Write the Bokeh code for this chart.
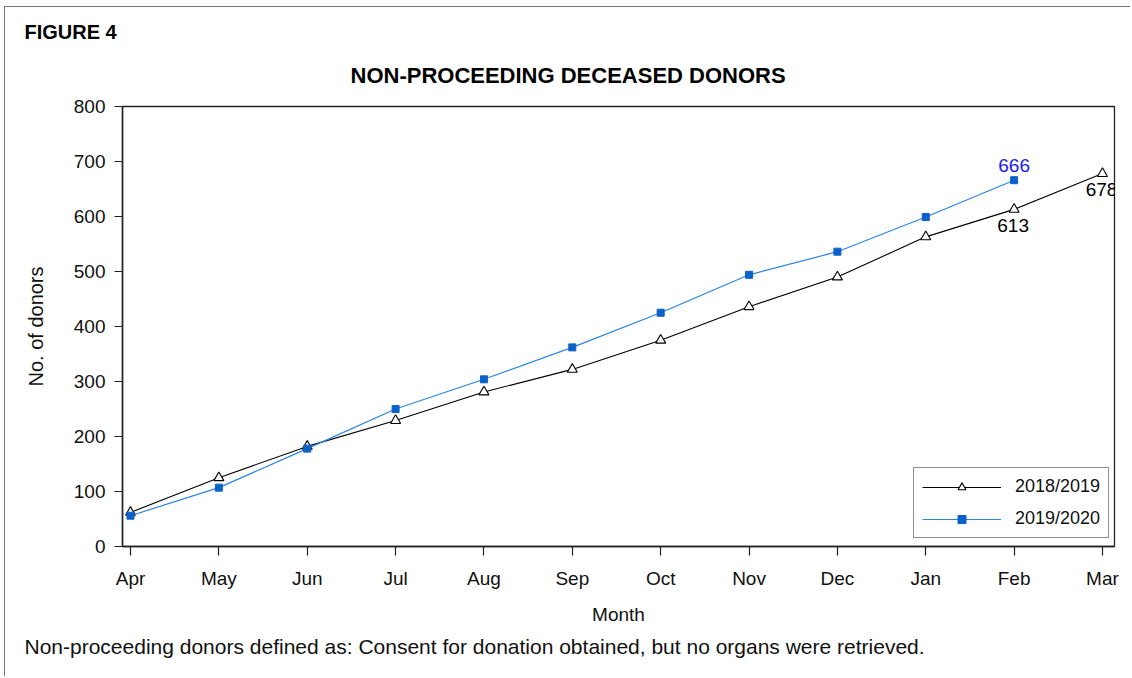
from bokeh.plotting import figure
from bokeh.models import ColumnDataSource, Legend, LegendItem, FixedTicker, Range1d, Title
from bokeh.embed import file_html
from bokeh.resources import INLINE
from bokeh.core.properties import value

months = ["Apr", "May", "Jun", "Jul", "Aug", "Sep", "Oct", "Nov", "Dec", "Jan", "Feb", "Mar"]
series_2018 = [62, 125, 182, 229, 281, 322, 375, 436, 490, 563, 613, 678]
series_2019 = [56, 107, 178, 250, 304, 362, 425, 494, 536, 599, 666]
y_ticks = [0, 100, 200, 300, 400, 500, 600, 700, 800]

FONT = "Liberation Sans"

x18 = list(range(len(series_2018)))
x19 = list(range(len(series_2019)))

p = figure(width=1126, height=670, output_backend="svg", toolbar_location=None,
           x_range=Range1d(-0.0905, 11.136), y_range=Range1d(0, 800),
           min_border_left=117, min_border_right=17, min_border_top=99, min_border_bottom=131)
p.background_fill_color = "white"
p.border_fill_color = "white"
p.outline_line_color = "#222222"
p.outline_line_width = 1.3
p.xgrid.visible = False
p.ygrid.visible = False
p.styles = {"margin-top": "6px", "margin-left": "4px",
            "border-top": "1px solid #777777", "border-left": "1px solid #777777"}

src18 = ColumnDataSource(dict(x=x18, y=series_2018))
src19 = ColumnDataSource(dict(x=x19, y=series_2019))

l18 = p.line("x", "y", source=src18, line_color="black", line_width=1.1)
m18 = p.scatter("x", "y", source=src18, marker="triangle", size=10, fill_color="white",
                line_color="black", line_width=1.1)
l19 = p.line("x", "y", source=src19, line_color="#2a86e2", line_width=1.2)
m19 = p.scatter("x", "y", source=src19, marker="square", size=7, fill_color="#0a62c8",
                line_color="#0a62c8")

# end-point labels
lab19 = ColumnDataSource(dict(x=[x19[-1]], y=[series_2019[-1]], t=[str(series_2019[-1])]))
lab18 = ColumnDataSource(dict(x=[x18[-2], x18[-1]], y=[series_2018[-2], series_2018[-1]],
                              t=[str(series_2018[-2]), str(series_2018[-1])]))
p.text("x", "y", text="t", source=lab19, text_color="#1a1aff", text_font=value(FONT),
       text_font_size="19px", text_align="center", text_baseline="middle", y_offset=-15)
p.text("x", "y", text="t", source=lab18, text_color="black", text_font=value(FONT),
       text_font_size="19px", text_align="center", text_baseline="middle", y_offset=16, x_offset=-1)

# axes
p.xaxis.ticker = FixedTicker(ticks=x18)
p.xaxis.major_label_overrides = {i: m for i, m in enumerate(months)}
p.yaxis.ticker = FixedTicker(ticks=y_ticks)
for ax in (p.xaxis[0], p.yaxis[0]):
    ax.axis_line_color = "#222222"
    ax.axis_line_width = 1.5
    ax.major_tick_line_color = "#222222"
    ax.major_tick_line_width = 1.2
    ax.major_tick_in = 0
    ax.minor_tick_line_color = None
    ax.major_label_text_font = FONT
    ax.major_label_text_font_size = "19px"
    ax.major_label_text_color = "#111111"
    ax.axis_label_text_font = FONT
    ax.axis_label_text_font_size = "19px"
    ax.axis_label_text_font_style = "normal"
    ax.axis_label_text_color = "#111111"
p.xaxis.major_tick_out = 9
p.xaxis.major_label_standoff = 12
p.xaxis.axis_label = "Month"
p.xaxis.axis_label_standoff = 12
p.yaxis.major_tick_out = 8
p.yaxis.major_label_standoff = 9
p.yaxis.axis_label = "No. of donors"
p.yaxis.axis_label_text_font_size = "20px"
p.yaxis.axis_label_standoff = 24

# legend
legend = Legend(items=[LegendItem(label="2018/2019", renderers=[l18, m18]),
                       LegendItem(label="2019/2020", renderers=[l19, m19])],
                location=(791, 8), orientation="vertical",
                border_line_color="#222222", border_line_width=1,
                background_fill_color="white", background_fill_alpha=1,
                padding=8, spacing=11, glyph_width=79, glyph_height=20,
                label_height=20, label_standoff=14, margin=0,
                label_text_font=FONT, label_text_font_size="18px", label_text_color="#111111")
p.add_layout(legend, "center")

# titles and note
p.title.text = "FIGURE 4"
p.title.align = "left"
p.title.offset = -98
p.title.standoff = 0
p.title.text_font = FONT
p.title.text_font_size = "20px"
p.title.text_font_style = "bold"
p.title.text_color = "black"

p.add_layout(Title(text="NON-PROCEEDING DECEASED DONORS", align="left", offset=228, standoff=37,
                   text_font=FONT, text_font_size="22px", text_font_style="bold",
                   text_color="black"), "above")
p.add_layout(Title(text="Non-proceeding donors defined as: Consent for donation obtained, but no organs were retrieved.",
                   align="left", offset=-98, standoff=10,
                   text_font=FONT, text_font_size="21px", text_font_style="normal",
                   text_color="#111111"), "below")

open("out.html", "w").write(file_html(p, INLINE))
